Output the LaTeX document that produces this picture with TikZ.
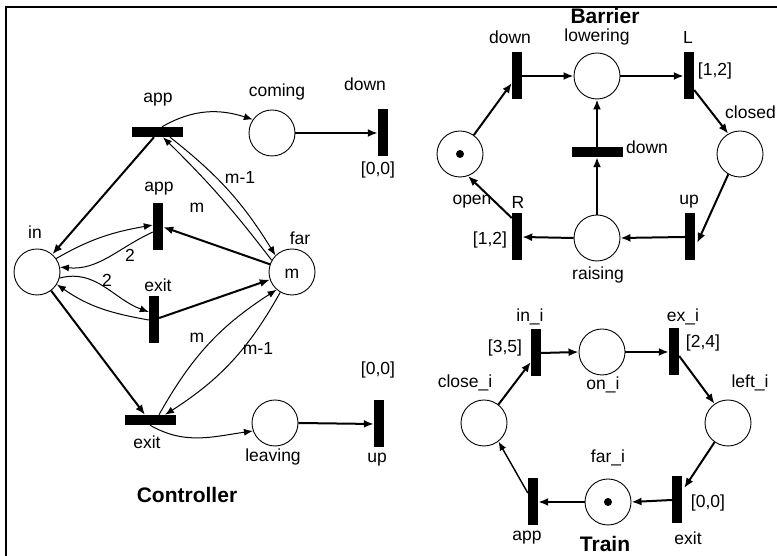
\documentclass[tikz,border=0pt]{standalone}
\usepackage{fontspec}
\setmainfont{Liberation Sans}
\usetikzlibrary{arrows.meta}
\begin{document}
\begin{tikzpicture}[x=1pt,y=1pt,
  place/.style={circle,draw,line width=0.9pt,minimum size=46pt,inner sep=0pt},
  vtr/.style={rectangle,fill=black,minimum width=10pt,minimum height=47pt,inner sep=0pt},
  htr/.style={rectangle,fill=black,minimum width=51pt,minimum height=10pt,inner sep=0pt},
  lbl/.style={inner sep=0pt,font=\fontsize{17.5}{19}\selectfont},
  ttl/.style={inner sep=0pt,font=\fontsize{21}{23}\selectfont\bfseries},
  thk/.style={line width=2pt,-{Latex[length=10pt,width=8pt]}},
  thn/.style={line width=1pt,-{Latex[length=9pt,width=7pt]}},
  tok/.style={circle,fill=black,minimum size=8pt,inner sep=0pt}]
\useasboundingbox (0,0) rectangle (777,556);
\draw[line width=2pt] (6,0) -- (6,549) -- (777,549);

% ---------------- Controller ----------------
\node[htr] (appT) at (157,424) {};
\node[place] (coming) at (272,423) {};
\node[vtr] (downC) at (383,423) {};
\node[vtr] (appM) at (158,329) {};
\node[place] (in) at (37,284) {};
\node[place] (far) at (292,284) {};
\node[lbl] (farm) at (292,282) {m};
\node[vtr] (exitM) at (154,236) {};
\node[htr] (exitB) at (150,136) {};
\node[place] (leaving) at (275,133) {};
\node[vtr] (upC) at (379,132) {};

\node[lbl] (lappT) at (158,456) {app};
\node[lbl] (lcoming) at (277,464) {coming};
\node[lbl] (ldownC) at (365,472) {down};
\node[lbl] (tdownC) at (378,386) {[0,0]};
\node[lbl] (lappM) at (159,367) {app};
\node[lbl] (lin) at (35,324) {in};
\node[lbl] (lfar) at (300,318) {far};
\node[lbl] (lexitM) at (158,271) {exit};
\node[lbl] (lexitB) at (147,114) {exit};
\node[lbl] (lleaving) at (273,99) {leaving};
\node[lbl] (tupC) at (378,186) {[0,0]};
\node[lbl] (lupC) at (377,96) {up};
\node[ttl] (tctrl) at (187,61) {Controller};

\node[lbl] (wa) at (240,379) {m-1};
\node[lbl] (wb) at (197,348) {m};
\node[lbl] (wc) at (130,301) {2};
\node[lbl] (wd) at (107,276) {2};
\node[lbl] (we) at (197,218) {m};
\node[lbl] (wf) at (258,208) {m-1};

\draw[thk] ([xshift=-3]appT.south) -- (in);
\draw[thn] ([xshift=5]appT.north) to[out=30,in=162] (coming.145);
\draw[thk] (coming.east) -- (downC.west);
\draw[thn] ([xshift=13]appT.south) to[bend left=10] (far.135);
\draw[thn] (far.150) to[bend right=4] ([xshift=6]appT.south);
\draw[thk] (far) -- (appM.east);
\draw[thn] (in.35) to[out=30,in=190] ([yshift=2]appM.west);
\draw[thn] ([yshift=-5]appM.west) to[out=205,in=-5] (in.12);
\draw[thn] (in.-15) to[out=15,in=160] ([yshift=8]exitM.west);
\draw[thn] (exitM.west) to[out=170,in=-35] (in.-32);
\draw[thk] ([yshift=2]exitM.east) -- (far);
\draw[thk] (in) -- ([xshift=-5]exitB.north);
\draw[thn] ([xshift=9]exitB.north) to[bend left=14] (far.229);
\draw[thn] (far.240) to[bend left=14] ([xshift=15]exitB.north);
\draw[thn] (exitB.south) to[out=-30,in=188] (leaving.200);
\draw[thk] (leaving.east) -- (upC.west);

% ---------------- Barrier ----------------
\node[ttl] (tbar) at (605,540) {Barrier};
\node[vtr] (downB) at (517,480) {};
\node[place] (lowering) at (597,480) {};
\node[vtr] (L) at (689,480) {};
\node[place] (closed) at (740,402) {};
\node[place] (open) at (460,402) {};
\node[tok] (opentok) at (460,402) {};
\node[htr] (downMid) at (597,404) {};
\node[vtr] (R) at (517,319) {};
\node[place] (raising) at (597,318) {};
\node[vtr] (upB) at (690,319) {};

\node[lbl] (ldownB) at (510,519) {down};
\node[lbl] (llowering) at (597,519) {lowering};
\node[lbl] (lL) at (688,519) {L};
\node[lbl] (tL) at (715,485) {[1,2]};
\node[lbl,anchor=east] (lclosed) at (776,444) {closed};
\node[lbl] (lopen) at (472,354) {open};
\node[lbl] (ldownMid) at (647,409) {down};
\node[lbl] (lR) at (518,354) {R};
\node[lbl] (tR) at (490,316) {[1,2]};
\node[lbl] (lraising) at (598,281) {raising};
\node[lbl] (lupB) at (689,354) {up};

\draw[thk] (open) -- ([yshift=-7]downB.west);
\draw[thk] (downB.east) -- (lowering.west);
\draw[thk] (lowering.east) -- (L.west);
\draw[thk] ([yshift=-14]L.east) -- (closed.120);
\draw[thk] (closed.240) -- ([yshift=-6,xshift=2]upB.east);
\draw[thk] (upB.west) -- (raising.east);
\draw[thk] (raising.west) -- (R.east);
\draw[thk] ([yshift=19]R.west) -- (open.-70);
\draw[thk] (raising.north) -- (downMid.south);
\draw[thk] (downMid.north) -- (lowering.south);

% ---------------- Train ----------------
\node[vtr] (inI) at (536,203) {};
\node[place] (onI) at (602,204) {};
\node[vtr] (exI) at (674,204) {};
\node[place] (leftI) at (728,133) {};
\node[place] (closeI) at (484,133) {};
\node[place] (farI) at (608,54) {};
\node[tok] (fartok) at (608,54) {};
\node[vtr] (exitT) at (677,56) {};
\node[vtr] (appTr) at (533,54) {};

\node[lbl] (linI) at (530,239) {in\_i};
\node[lbl] (tinI) at (505,208) {[3,5]};
\node[lbl] (lonI) at (603,171) {on\_i};
\node[lbl] (lexI) at (683,239) {ex\_i};
\node[lbl] (texI) at (703,213) {[2,4]};
\node[lbl] (lleftI) at (750,173) {left\_i};
\node[lbl] (lcloseI) at (465,173) {close\_i};
\node[lbl] (lfarI) at (608,98) {far\_i};
\node[lbl] (lexitT) at (688,18) {exit};
\node[lbl] (texitT) at (708,53) {[0,0]};
\node[lbl] (lappTr) at (527,18) {app};
\node[ttl,anchor=south] (ttrain) at (605,4) {Train};

\draw[thk] (closeI.52) -- ([yshift=-9]inI.west);
\draw[thk] (inI.east) -- (onI.west);
\draw[thk] (onI.east) -- (exI.west);
\draw[thk] ([yshift=-4]exI.east) -- (leftI.125);
\draw[thk] (leftI.235) -- ([yshift=12,xshift=2]exitT.east);
\draw[thk] (exitT.west) -- (farI.east);
\draw[thk] (farI.west) -- (appTr.east);
\draw[thn,line width=1.4pt] ([yshift=9]appTr.west) -- (closeI.-52);
\end{tikzpicture}
\end{document}
